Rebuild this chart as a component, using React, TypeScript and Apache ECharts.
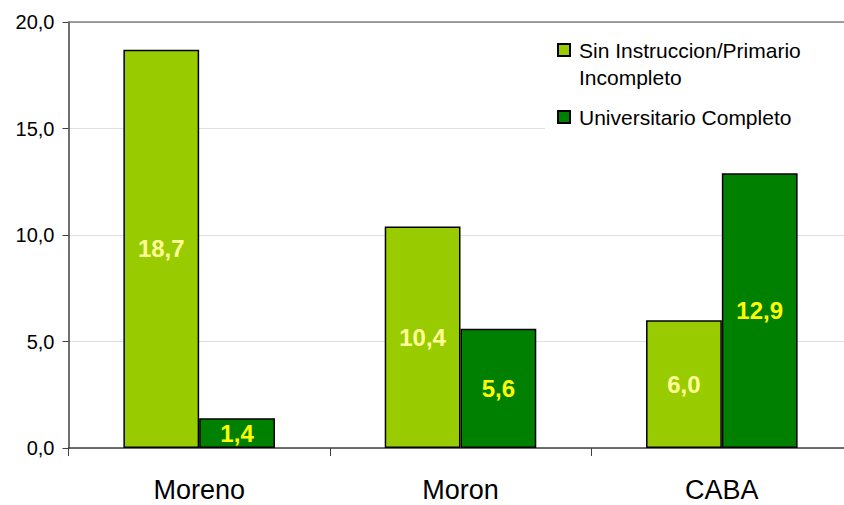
import React, { useEffect, useRef } from "react";
import * as echarts from "echarts";

const categories = ["Moreno", "Moron", "CABA"];
const seriesNames = ["Sin Instruccion/Primario Incompleto", "Universitario Completo"];
const sinInstruccion = [18.7, 10.4, 6.0];
const universitario = [1.4, 5.6, 12.9];
const colors = ["#99CC00", "#008000"];
const labelColors = ["#FFFF99", "#FFFF00"];

const FONT = "'Liberation Sans', Arial, sans-serif";
const fmt = (v: number) => v.toFixed(1).replace(".", ",");

export default function App() {
  const ref = useRef<HTMLDivElement>(null);
  useEffect(() => {
    if (!ref.current) return;
    const chart = echarts.init(ref.current, undefined, { renderer: "svg" });
    const barLabel = (color: string) => ({
      show: true,
      position: "inside",
      color,
      fontSize: 24,
      fontWeight: "bold",
      fontFamily: FONT,
      formatter: (p: any) => fmt(p.value),
    });
    chart.setOption({
      animation: false,
      backgroundColor: "#ffffff",
      textStyle: { fontFamily: FONT },
      grid: {
        left: 68.5,
        top: 22,
        width: 784,
        bottom: 57,
        containLabel: false,
        outerBoundsMode: "none",
      },
      legend: {
        show: true,
        orient: "vertical",
        left: 557,
        top: 9.5,
        padding: 0,
        itemWidth: 12,
        itemHeight: 12,
        itemGap: 13,
        icon: "rect",
        selectedMode: false,
        formatter: (name: string) =>
          name === seriesNames[0] ? "\nSin Instruccion/Primario\nIncompleto" : name,
        textStyle: { fontSize: 21, color: "#000", fontFamily: FONT, lineHeight: 27, padding: [0, 0, 0, 4] },
        data: [{ name: seriesNames[0] }, { name: seriesNames[1] }],
      },
      graphic: [
        {
          type: "rect",
          z: 1,
          silent: true,
          shape: { x: 545, y: 24, width: 300, height: 140 },
          style: { fill: "#ffffff" },
        },
      ],
      xAxis: [
        {
          type: "category",
          data: categories,
          position: "bottom",
          axisLine: { show: true, lineStyle: { color: "#404040", width: 1.5 } },
          axisTick: { show: true, length: 8, alignWithLabel: false, lineStyle: { color: "#404040" } },
          axisLabel: { color: "#000", fontSize: 27, margin: 28, fontFamily: FONT },
          splitLine: { show: false },
        },
        {
          type: "category",
          data: categories,
          position: "top",
          axisLine: { show: true, lineStyle: { color: "#808080", width: 1.5 } },
          axisTick: { show: false },
          axisLabel: { show: false },
          splitLine: { show: false },
        },
      ],
      yAxis: {
        type: "value",
        min: 0,
        max: 20,
        interval: 5,
        axisLine: { show: true, lineStyle: { color: "#404040", width: 1.5 } },
        axisTick: { show: true, length: 6, lineStyle: { color: "#404040" } },
        axisLabel: { color: "#000", fontSize: 20, margin: 14, fontFamily: FONT, formatter: (v: number) => fmt(v) },
        splitLine: { show: true, lineStyle: { color: "#c0c0c0", type: "dotted", width: 1 } },
      },
      series: [
        {
          name: seriesNames[0],
          type: "bar",
          data: sinInstruccion,
          barGap: "0%",
          barCategoryGap: "42%",
          itemStyle: { color: colors[0], borderColor: "#000", borderWidth: 1.5 },
          label: barLabel(labelColors[0]),
        },
        {
          name: seriesNames[1],
          type: "bar",
          data: universitario,
          barGap: "0%",
          barCategoryGap: "42%",
          itemStyle: { color: colors[1], borderColor: "#000", borderWidth: 1.5 },
          label: barLabel(labelColors[1]),
        },
      ],
    });
    return () => chart.dispose();
  }, []);
  return (
    <div
      ref={ref}
      style={{ position: "absolute", left: 0, top: 0, width: 844, height: 505 }}
    />
  );
}
